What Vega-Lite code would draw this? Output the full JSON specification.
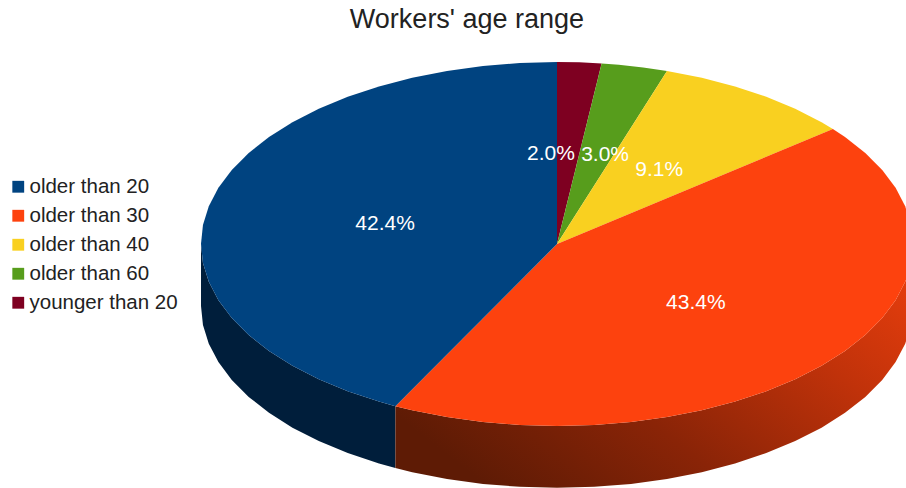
{"$schema":"https://vega.github.io/schema/vega-lite/v6.json","width":906,"height":488,"autosize":"none","padding":0,"background":"white","title":{"text":"Workers' age range","font":"Liberation Sans","fontSize":27,"fontWeight":"normal","color":"#222222","anchor":"middle","orient":"top","offset":-34,"dx":14},"config":{"view":{"stroke":null}},"datasets":{"slices":[
{"age":"younger than 20","i":0,"x":0,"y":0},{"age":"younger than 20","i":1,"x":0,"y":1},{"age":"younger than 20","i":2,"x":0.0628,"y":0.998},{"age":"younger than 20","i":3,"x":0.1253,"y":0.9921},
{"age":"older than 60","i":0,"x":0,"y":0},{"age":"older than 60","i":1,"x":0.1253,"y":0.9921},{"age":"older than 60","i":2,"x":0.1736,"y":0.9848},{"age":"older than 60","i":3,"x":0.2419,"y":0.9703},{"age":"older than 60","i":4,"x":0.309,"y":0.9511},
{"age":"older than 40","i":0,"x":0,"y":0},{"age":"older than 40","i":1,"x":0.309,"y":0.9511},{"age":"older than 40","i":2,"x":0.4067,"y":0.9135},{"age":"older than 40","i":3,"x":0.5,"y":0.866},{"age":"older than 40","i":4,"x":0.5878,"y":0.809},{"age":"older than 40","i":5,"x":0.6691,"y":0.7431},{"age":"older than 40","i":6,"x":0.7431,"y":0.6691},{"age":"older than 40","i":7,"x":0.7749,"y":0.632},
{"age":"older than 30","i":0,"x":0,"y":0},{"age":"older than 30","i":1,"x":0.7749,"y":0.632},{"age":"older than 30","i":2,"x":0.809,"y":0.5878},{"age":"older than 30","i":3,"x":0.866,"y":0.5},{"age":"older than 30","i":4,"x":0.9135,"y":0.4067},{"age":"older than 30","i":5,"x":0.9511,"y":0.309},{"age":"older than 30","i":6,"x":0.9781,"y":0.2079},{"age":"older than 30","i":7,"x":0.9945,"y":0.1045},{"age":"older than 30","i":8,"x":1,"y":0},{"age":"older than 30","i":9,"x":0.9945,"y":-0.1045},{"age":"older than 30","i":10,"x":0.9781,"y":-0.2079},{"age":"older than 30","i":11,"x":0.9511,"y":-0.309},{"age":"older than 30","i":12,"x":0.9135,"y":-0.4067},{"age":"older than 30","i":13,"x":0.866,"y":-0.5},{"age":"older than 30","i":14,"x":0.809,"y":-0.5878},{"age":"older than 30","i":15,"x":0.7431,"y":-0.6691},{"age":"older than 30","i":16,"x":0.6691,"y":-0.7431},{"age":"older than 30","i":17,"x":0.5878,"y":-0.809},{"age":"older than 30","i":18,"x":0.5,"y":-0.866},{"age":"older than 30","i":19,"x":0.4067,"y":-0.9135},{"age":"older than 30","i":20,"x":0.309,"y":-0.9511},{"age":"older than 30","i":21,"x":0.2079,"y":-0.9781},{"age":"older than 30","i":22,"x":0.1045,"y":-0.9945},{"age":"older than 30","i":23,"x":0,"y":-1},{"age":"older than 30","i":24,"x":-0.1045,"y":-0.9945},{"age":"older than 30","i":25,"x":-0.2079,"y":-0.9781},{"age":"older than 30","i":26,"x":-0.309,"y":-0.9511},{"age":"older than 30","i":27,"x":-0.4067,"y":-0.9135},{"age":"older than 30","i":28,"x":-0.454,"y":-0.891},
{"age":"older than 20","i":0,"x":0,"y":0},{"age":"older than 20","i":1,"x":-0.454,"y":-0.891},{"age":"older than 20","i":2,"x":-0.5,"y":-0.866},{"age":"older than 20","i":3,"x":-0.5878,"y":-0.809},{"age":"older than 20","i":4,"x":-0.6691,"y":-0.7431},{"age":"older than 20","i":5,"x":-0.7431,"y":-0.6691},{"age":"older than 20","i":6,"x":-0.809,"y":-0.5878},{"age":"older than 20","i":7,"x":-0.866,"y":-0.5},{"age":"older than 20","i":8,"x":-0.9135,"y":-0.4067},{"age":"older than 20","i":9,"x":-0.9511,"y":-0.309},{"age":"older than 20","i":10,"x":-0.9781,"y":-0.2079},{"age":"older than 20","i":11,"x":-0.9945,"y":-0.1045},{"age":"older than 20","i":12,"x":-1,"y":0},{"age":"older than 20","i":13,"x":-0.9945,"y":0.1045},{"age":"older than 20","i":14,"x":-0.9781,"y":0.2079},{"age":"older than 20","i":15,"x":-0.9511,"y":0.309},{"age":"older than 20","i":16,"x":-0.9135,"y":0.4067},{"age":"older than 20","i":17,"x":-0.866,"y":0.5},{"age":"older than 20","i":18,"x":-0.809,"y":0.5878},{"age":"older than 20","i":19,"x":-0.7431,"y":0.6691},{"age":"older than 20","i":20,"x":-0.6691,"y":0.7431},{"age":"older than 20","i":21,"x":-0.5878,"y":0.809},{"age":"older than 20","i":22,"x":-0.5,"y":0.866},{"age":"older than 20","i":23,"x":-0.4067,"y":0.9135},{"age":"older than 20","i":24,"x":-0.309,"y":0.9511},{"age":"older than 20","i":25,"x":-0.2079,"y":0.9781},{"age":"older than 20","i":26,"x":-0.1045,"y":0.9945},{"age":"older than 20","i":27,"x":0,"y":1}
],"wallBlue":[{"x":-1,"top":0,"bottom":-0.34},{"x":-0.9945,"top":-0.1045,"bottom":-0.4445},{"x":-0.9781,"top":-0.2079,"bottom":-0.5479},{"x":-0.9511,"top":-0.309,"bottom":-0.649},{"x":-0.9135,"top":-0.4067,"bottom":-0.7467},{"x":-0.866,"top":-0.5,"bottom":-0.84},{"x":-0.809,"top":-0.5878,"bottom":-0.9278},{"x":-0.7431,"top":-0.6691,"bottom":-1.0091},{"x":-0.6691,"top":-0.7431,"bottom":-1.0831},{"x":-0.5878,"top":-0.809,"bottom":-1.149},{"x":-0.5,"top":-0.866,"bottom":-1.206},{"x":-0.454,"top":-0.891,"bottom":-1.231}],
"wallRed":[{"x":-0.454,"top":-0.891,"bottom":-1.231},{"x":-0.4067,"top":-0.9135,"bottom":-1.2535},{"x":-0.309,"top":-0.9511,"bottom":-1.2911},{"x":-0.2079,"top":-0.9781,"bottom":-1.3181},{"x":-0.1045,"top":-0.9945,"bottom":-1.3345},{"x":0,"top":-1,"bottom":-1.34},{"x":0.1045,"top":-0.9945,"bottom":-1.3345},{"x":0.2079,"top":-0.9781,"bottom":-1.3181},{"x":0.309,"top":-0.9511,"bottom":-1.2911},{"x":0.4067,"top":-0.9135,"bottom":-1.2535},{"x":0.5,"top":-0.866,"bottom":-1.206},{"x":0.5878,"top":-0.809,"bottom":-1.149},{"x":0.6691,"top":-0.7431,"bottom":-1.0831},{"x":0.7431,"top":-0.6691,"bottom":-1.0091},{"x":0.809,"top":-0.5878,"bottom":-0.9278},{"x":0.866,"top":-0.5,"bottom":-0.84},{"x":0.9135,"top":-0.4067,"bottom":-0.7467},{"x":0.9511,"top":-0.309,"bottom":-0.649},{"x":0.9781,"top":-0.2079,"bottom":-0.5479},{"x":0.9945,"top":-0.1045,"bottom":-0.4445},{"x":1,"top":0,"bottom":-0.34}],
"labels":[{"label":"2.0%","x":-0.017,"y":0.495},{"label":"3.0%","x":0.135,"y":0.489},{"label":"9.1%","x":0.287,"y":0.407},{"label":"42.4%","x":-0.483,"y":0.11},{"label":"43.4%","x":0.39,"y":-0.324}]},
"layer":[
{"data":{"name":"wallBlue"},"mark":{"type":"area","color":"#001e3b","clip":true},"encoding":{"x":{"field":"x","type":"quantitative","scale":{"domain":[-1.5646,0.9803],"nice":false,"zero":false},"axis":null},"y":{"field":"top","type":"quantitative","scale":{"domain":[-1.3407,1.3407],"nice":false,"zero":false},"axis":null},"y2":{"field":"bottom"}}},
{"data":{"name":"wallRed"},"mark":{"type":"area","clip":true,"fill":{"gradient":"linear","x1":0,"y1":0.7,"x2":1,"y2":0.1,"stops":[{"offset":0,"color":"#5e1b05"},{"offset":0.35,"color":"#8a2407"},{"offset":0.7,"color":"#c0320a"},{"offset":1,"color":"#e83e0d"}]}},"encoding":{"x":{"field":"x","type":"quantitative","axis":null},"y":{"field":"top","type":"quantitative","axis":null},"y2":{"field":"bottom"}}},
{"data":{"name":"slices"},"mark":{"type":"line","filled":true,"clip":true,"strokeWidth":0,"interpolate":"linear"},"encoding":{"x":{"field":"x","type":"quantitative","axis":null},"y":{"field":"y","type":"quantitative","axis":null},"order":{"field":"i","type":"ordinal"},"color":{"field":"age","type":"nominal","scale":{"domain":["older than 20","older than 30","older than 40","older than 60","younger than 20"],"range":["#004380","#fd420e","#f9d020","#579d1c","#7e0021"]},"legend":{"title":null,"orient":"none","legendX":8,"legendY":176.5,"symbolType":"square","symbolSize":140,"symbolStrokeWidth":0,"labelFont":"Liberation Sans","labelFontSize":20.5,"labelColor":"#222222","labelOffset":1,"rowPadding":8,"labelLimit":200}}}},
{"data":{"name":"labels"},"mark":{"type":"text","font":"Liberation Sans","fontSize":21,"color":"white","align":"center","baseline":"middle"},"encoding":{"x":{"field":"x","type":"quantitative","axis":null},"y":{"field":"y","type":"quantitative","axis":null},"text":{"field":"label"}}}
]}
